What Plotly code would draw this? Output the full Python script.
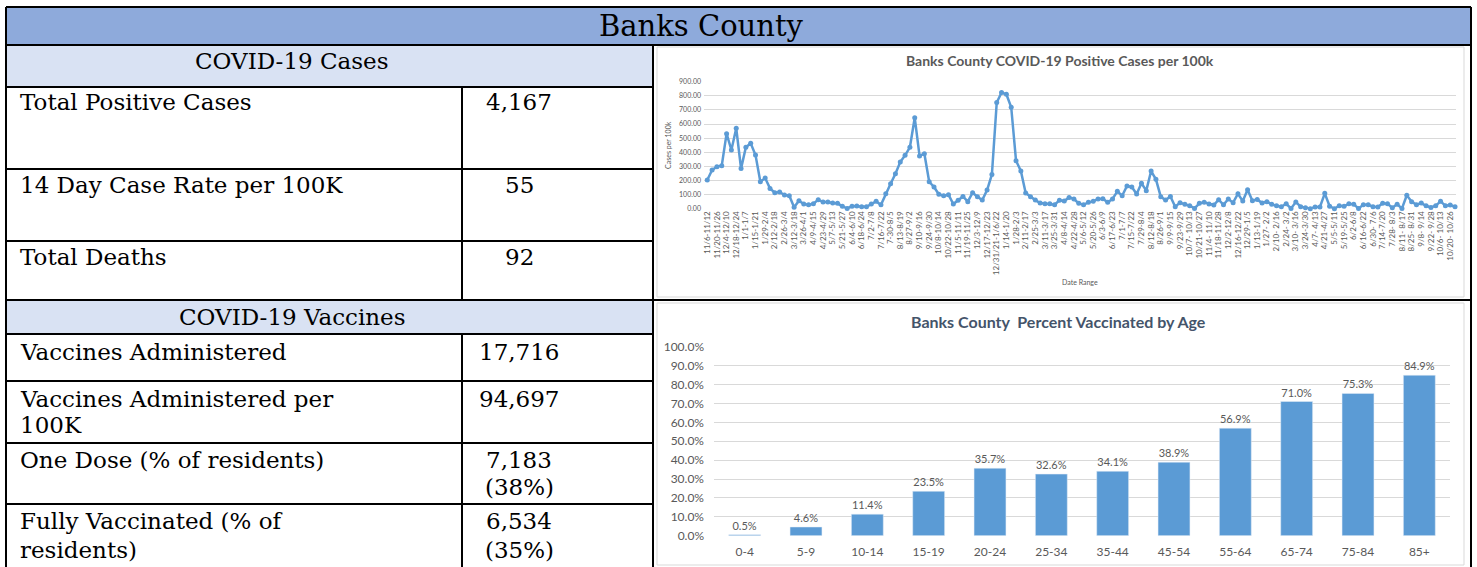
import plotly.graph_objects as go

W, H = 1477, 567

# ---------------- data ----------------
county_title = "Banks County"
cases_header = "COVID-19 Cases"
cases_rows = ["Total Positive Cases", "14 Day Case Rate per 100K", "Total Deaths"]
cases_values = ["4,167", "55", "92"]

vacc_header = "COVID-19 Vaccines"
vacc_rows = [["Vaccines Administered"], ["Vaccines Administered per", "100K"],
             ["One Dose (% of residents)"], ["Fully Vaccinated (% of", "residents)"]]
vacc_values = [["17,716"], ["94,697"], ["7,183", "(38%)"], ["6,534", "(35%)"]]

line_title = "Banks County COVID-19 Positive Cases per 100k"
week_tick_labels = [
    "11/6-11/12", "11/20-11/26", "12/4-12/10", "12/18-12/24", "1/1-1/7", "1/15-1/21",
    "1/29-2/4", "2/12-2/18", "2/26-3/4", "3/12-3/18", "3/26-4/1", "4/9-4/15", "4/23-4/29",
    "5/7-5/13", "5/21-5/27", "6/4-6/10", "6/18-6/24", "7/2-7/8", "7/16-7/22", "7-30-8/5",
    "8/13-8/19", "8/27-9/2", "9/10-9/16", "9/24-9/30", "10/8-10/14", "10/22-10/28",
    "11/5-11/11", "11/19-11/25", "12/3-12/9", "12/17-12/23", "12/31/21-1/6/22", "1/14-1/20",
    "1/28-2/3", "2/11-2/17", "2/25-3/3", "3/11-3/17", "3/25-3/31", "4/8-4/14", "4/22-4/28",
    "5/6-5/12", "5/20-5/26", "6/3-6/9", "6/17-6/23", "7/1-7/7", "7/15-7/22", "7/29-8/4",
    "8/12-8/18", "8/26-9/1", "9/9-9/15", "9/23-9/29", "10/7- 10/13", "10/21-10/27",
    "11/4- 11/10", "11/18-11/28", "12/2-12/8", "12/16-12/22", "12/29-1/5", "1/13-1/19",
    "1/27- 2/2", "2/10- 2/16", "2/24- 3/2", "3/10- 3/16", "3/24-3/30", "4/7- 4/13",
    "4/21-4/27", "5/5-5/11", "5/19-5/25", "6/2-6/8", "6/16-6/22", "6/30- 7/6", "7/14-7/20",
    "7/28- 8/3", "8/11- 8/17", "8/25- 8/31", "9/8- 9/14", "9/22- 9/28", "10/6- 10/13",
    "10/20- 10/26",
]
cases_per_100k = [
    203, 274, 298, 305, 532, 416, 570, 284, 435, 463,
    380, 191, 217, 144, 113, 118, 97, 92, 10, 57,
    33, 28, 35, 64, 47, 47, 40, 38, 17, 2,
    17, 19, 14, 14, 33, 52, 28, 106, 177, 248,
    331, 378, 435, 645, 374, 390, 191, 154, 102, 92,
    99, 33, 59, 87, 50, 113, 85, 61, 132, 243,
    752, 823, 811, 719, 340, 267, 111, 85, 61, 40,
    35, 35, 28, 59, 54, 80, 69, 38, 28, 45,
    52, 69, 71, 45, 69, 123, 92, 161, 154, 104,
    180, 128, 267, 208, 85, 61, 87, 14, 43, 31,
    21, 2, 38, 45, 33, 26, 64, 28, 69, 43,
    106, 54, 135, 57, 66, 40, 50, 31, 21, 14,
    35, 2, 47, 14, 7, 0, 12, 12, 109, 17,
    0, 21, 17, 35, 31, 2, 28, 28, 14, 12,
    38, 35, 7, 31, 2, 95, 50, 28, 40, 21,
    9, 21, 52, 21, 26, 14,
]

bar_title = "Banks County  Percent Vaccinated by Age"
age_groups = ["0-4", "5-9", "10-14", "15-19", "20-24", "25-34", "35-44", "45-54",
              "55-64", "65-74", "75-84", "85+"]
pct_vaccinated = [0.5, 4.6, 11.4, 23.5, 35.7, 32.6, 34.1, 38.9, 56.9, 71.0, 75.3, 84.9]

# ---------------- helpers ----------------
def fx(x):
    return x / W

def fy(y):
    return 1 - y / H

SERIF = "DejaVu Serif"
SANS = "Lato"
BLUE = "#5B9BD5"
GRAY = "#595959"

fig = go.Figure()

idx = list(range(len(cases_per_100k)))
fig.add_trace(go.Scatter(
    x=idx, y=cases_per_100k, mode="lines+markers",
    line=dict(color=BLUE, width=2.5), marker=dict(color=BLUE, size=5),
    cliponaxis=False, xaxis="x", yaxis="y", hoverinfo="y"))

fig.add_trace(go.Bar(
    x=age_groups, y=pct_vaccinated, marker=dict(color=BLUE),
    text=[f"{v:.1f}%" for v in pct_vaccinated], textposition="outside",
    textfont=dict(family=SANS, size=11, color=GRAY), cliponaxis=False,
    xaxis="x2", yaxis="y2"))

shapes = []
ann = []

# fills
shapes.append(dict(type="rect", xref="paper", yref="paper", x0=fx(6), x1=fx(1471), y0=fy(45), y1=fy(7),
                   fillcolor="#8EAADB", line=dict(width=0), layer="below"))
shapes.append(dict(type="rect", xref="paper", yref="paper", x0=fx(6), x1=fx(653), y0=fy(87), y1=fy(45),
                   fillcolor="#D9E2F3", line=dict(width=0), layer="below"))
shapes.append(dict(type="rect", xref="paper", yref="paper", x0=fx(6), x1=fx(653), y0=fy(334), y1=fy(300),
                   fillcolor="#D9E2F3", line=dict(width=0), layer="below"))
# chart frames (light gray)
for (y0, y1) in [(47, 297), (303, 565)]:
    shapes.append(dict(type="rect", xref="paper", yref="paper", x0=fx(657), x1=fx(1464), y0=fy(y1), y1=fy(y0),
                       fillcolor="rgba(0,0,0,0)", line=dict(width=1, color="#D9D9D9"), layer="below"))

def hline(y, x0, x1):
    shapes.append(dict(type="line", xref="paper", yref="paper", x0=fx(x0), x1=fx(x1), y0=fy(y), y1=fy(y),
                       line=dict(color="black", width=2)))

def vline(x, y0, y1):
    shapes.append(dict(type="line", xref="paper", yref="paper", x0=fx(x), x1=fx(x), y0=fy(y0), y1=fy(y1),
                       line=dict(color="black", width=2)))

hline(7, 6, 1471)
hline(45, 6, 1471)
hline(300, 6, 1471)
for y in [87, 169, 241, 334, 381, 443, 504]:
    hline(y, 6, 653)
vline(6, 7, 567)
vline(1471, 7, 567)
vline(653, 45, 567)
vline(462, 87, 300)
vline(462, 334, 567)

def text(x, y, s, size=23, anchor="left", family=SERIF, color="black", bold=False, angle=0):
    ann.append(dict(xref="paper", yref="paper", x=fx(x), y=fy(y), text=f"<b>{s}</b>" if bold else s,
                    showarrow=False, xanchor=anchor, yanchor="middle", textangle=angle,
                    font=dict(family=family, size=size, color=color)))

text(701, 26, county_title, size=29, anchor="center")
text(292, 61, cases_header, size=23, anchor="center")
text(292, 317, vacc_header, size=23, anchor="center")

for label, val, y in zip(cases_rows, cases_values, [102, 185, 257]):
    text(18, y, label)
    text(519, y, val, anchor="center")

vacc_y = [[352], [399, 425], [460, 487], [521, 550]]
vacc_vy = [[352], [399], [460, 487], [521, 550]]
for lines, vals, ys, vys in zip(vacc_rows, vacc_values, vacc_y, vacc_vy):
    for s, y in zip(lines, ys):
        text(18, y, s)
    for s, y in zip(vals, vys):
        text(519, y, s, anchor="center")

# chart texts
text(1060, 60, line_title, size=14, anchor="center", family=SANS, color=GRAY, bold=True)
text(668, 145, "Cases per 100k", size=7, anchor="center", family=SANS, color=GRAY, angle=-90)
text(1080, 282, "Date Range", size=7, anchor="center", family=SANS, color=GRAY)
text(1058, 321, bar_title, size=16, anchor="center", family=SANS, color="#44546A", bold=True)

fig.update_layout(
    width=W, height=H, margin=dict(l=0, r=0, t=0, b=0, autoexpand=False),
    paper_bgcolor="white", plot_bgcolor="white", showlegend=False,
    shapes=shapes, annotations=ann, bargap=0.48,
    xaxis=dict(domain=[fx(704), fx(1456)], range=[-0.68, 155.2], anchor="y", automargin=False,
               tickmode="array", tickvals=idx[::2], ticktext=week_tick_labels,
               tickangle=-90, tickfont=dict(family=SANS, size=8, color=GRAY),
               showgrid=False, zeroline=False, showline=False, ticks=""),
    yaxis=dict(domain=[fy(208.7), fy(81.7)], range=[0, 900], anchor="x", automargin=False,
               tickmode="linear", tick0=0, dtick=100, tickformat=".2f", ticklabelstandoff=2,
               tickfont=dict(family=SANS, size=7, color=GRAY),
               gridcolor="#D9D9D9", gridwidth=1, zeroline=False, showline=False, ticks=""),
    xaxis2=dict(domain=[fx(714), fx(1450)], anchor="y2", automargin=False,
                tickfont=dict(family=SANS, size=12, color=GRAY), ticklabelstandoff=7,
                showgrid=False, zeroline=False, showline=False, ticks=""),
    yaxis2=dict(domain=[fy(535.7), fy(346.7)], range=[0, 100], anchor="x2", automargin=False,
                tickmode="linear", tick0=0, dtick=10, tickformat=".1f", ticksuffix="%",
                ticklabelstandoff=9,
                tickfont=dict(family=SANS, size=12, color=GRAY),
                gridcolor="#D9D9D9", gridwidth=1, zeroline=False, showline=False, ticks=""),
)

fig.write_html("out.html", config={"displayModeBar": False},
               post_script="document.body.style.margin='0';")
